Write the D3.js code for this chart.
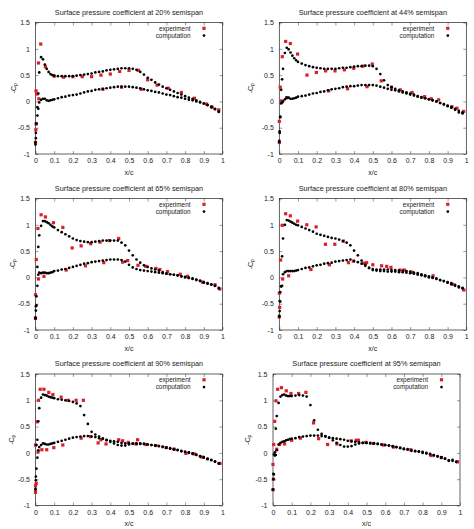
<!DOCTYPE html>
<html>
<head>
<meta charset="utf-8">
<script src="https://cdn.jsdelivr.net/npm/d3@7"></script>
<style>
  body { margin: 0; background: #fff; }
  text { font-family: "Liberation Sans", Arial, sans-serif; fill: #222; }
</style>
</head>
<body>
<script>
// span stations of the six plots
var spans = ["20%", "44%", "65%", "80%", "90%", "95%"];

var xTicks = [0, 0.1, 0.2, 0.3, 0.4, 0.5, 0.6, 0.7, 0.8, 0.9, 1];
var xTickLabels = ["0", "0.1", "0.2", "0.3", "0.4", "0.5", "0.6", "0.7", "0.8", "0.9", "1"];
var yTicks = [-1, -0.5, 0, 0.5, 1, 1.5];
var yTickLabels = ["-1", "-0.5", "0", "0.5", "1", "1.5"];

// chordwise stations of the computation (both surfaces)
var stations = [0, 0.002, 0.005, 0.01, 0.015, 0.02, 0.03, 0.04, 0.05, 0.06, 0.07, 0.08, 0.09, 0.1,
  0.12, 0.14, 0.16, 0.18, 0.2, 0.22, 0.24, 0.26, 0.28, 0.3,
  0.32, 0.34, 0.36, 0.38, 0.4, 0.42, 0.44, 0.46, 0.48, 0.5,
  0.52, 0.54, 0.56, 0.58, 0.6, 0.62, 0.64, 0.66, 0.68, 0.7,
  0.72, 0.74, 0.76, 0.78, 0.8, 0.82, 0.84, 0.86, 0.88, 0.9,
  0.92, 0.94, 0.96, 0.98];

// computation, -Cp, upper and lower surface
var upper20 = [-0.82, -0.70, -0.42, -0.11, 0.15, 0.55, 0.84, 0.80, 0.70, 0.62, 0.56, 0.52, 0.50, 0.49,
  0.48, 0.48, 0.48, 0.48, 0.48, 0.49, 0.50, 0.51, 0.52, 0.53,
  0.55, 0.56, 0.57, 0.59, 0.60, 0.61, 0.62, 0.63, 0.63, 0.63,
  0.62, 0.60, 0.56, 0.51, 0.45, 0.41, 0.36, 0.32, 0.28, 0.25,
  0.22, 0.19, 0.16, 0.13, 0.10, 0.07, 0.05, 0.02, -0.01, -0.04,
  -0.07, -0.11, -0.15, -0.20];
var lower20 = [-0.78, -0.60, -0.42, -0.27, -0.14, -0.02, 0.03, 0.05, 0.05, 0.02, 0.01, 0.02, 0.03, 0.04,
  0.06, 0.08, 0.09, 0.11, 0.12, 0.13, 0.15, 0.17, 0.19, 0.20,
  0.22, 0.23, 0.24, 0.25, 0.26, 0.27, 0.28, 0.28, 0.28, 0.28,
  0.27, 0.26, 0.25, 0.23, 0.21, 0.20, 0.18, 0.17, 0.15, 0.13,
  0.12, 0.10, 0.08, 0.07, 0.05, 0.03, 0.02, 0.00, -0.02, -0.04,
  -0.07, -0.10, -0.14, -0.19];

var upper44 = [-0.77, -0.57, -0.29, 0.22, 0.42, 0.62, 0.92, 1.02, 0.99, 0.93, 0.87, 0.82, 0.78, 0.75,
  0.72, 0.69, 0.67, 0.65, 0.64, 0.63, 0.62, 0.62, 0.62, 0.62,
  0.63, 0.64, 0.64, 0.65, 0.66, 0.67, 0.67, 0.68, 0.68, 0.67,
  0.62, 0.52, 0.40, 0.31, 0.27, 0.24, 0.21, 0.19, 0.17, 0.15,
  0.13, 0.10, 0.08, 0.06, 0.04, 0.02, 0.00, -0.03, -0.06, -0.09,
  -0.12, -0.16, -0.21, -0.23];
var lower44 = [-0.75, -0.60, -0.30, -0.04, -0.02, 0.00, 0.04, 0.07, 0.07, 0.05, 0.05, 0.06, 0.07, 0.09,
  0.10, 0.11, 0.13, 0.15, 0.16, 0.18, 0.19, 0.21, 0.23, 0.24,
  0.25, 0.27, 0.28, 0.29, 0.29, 0.30, 0.31, 0.31, 0.31, 0.31,
  0.30, 0.28, 0.26, 0.24, 0.22, 0.21, 0.19, 0.17, 0.15, 0.13,
  0.11, 0.09, 0.07, 0.06, 0.04, 0.02, 0.00, -0.03, -0.05, -0.08,
  -0.11, -0.14, -0.18, -0.21];

var upper65 = [-0.76, -0.63, -0.53, 0.20, 0.58, 0.80, 0.98, 1.07, 1.07, 1.05, 1.03, 1.00, 0.97, 0.95,
  0.90, 0.86, 0.82, 0.78, 0.74, 0.71, 0.69, 0.68, 0.67, 0.67,
  0.68, 0.69, 0.70, 0.70, 0.70, 0.70, 0.70, 0.66, 0.61, 0.51,
  0.42, 0.34, 0.28, 0.23, 0.20, 0.17, 0.15, 0.13, 0.10, 0.07,
  0.06, 0.05, 0.04, 0.02, 0.00, -0.01, -0.03, -0.05, -0.07, -0.10,
  -0.12, -0.14, -0.16, -0.21];
var lower65 = [-0.78, -0.55, -0.36, -0.16, 0.05, 0.09, 0.08, 0.09, 0.09, 0.08, 0.08, 0.09, 0.10, 0.12,
  0.13, 0.15, 0.16, 0.18, 0.20, 0.22, 0.24, 0.26, 0.27, 0.29,
  0.30, 0.31, 0.32, 0.33, 0.34, 0.34, 0.34, 0.33, 0.30, 0.24,
  0.19, 0.16, 0.14, 0.13, 0.12, 0.11, 0.10, 0.09, 0.08, 0.07,
  0.06, 0.05, 0.04, 0.02, 0.01, -0.01, -0.02, -0.04, -0.06, -0.09,
  -0.11, -0.13, -0.16, -0.20];

var upper80 = [-0.73, -0.64, -0.46, -0.17, 0.40, 0.74, 1.00, 1.09, 1.08, 1.06, 1.04, 1.02, 1.00, 0.99,
  0.96, 0.93, 0.90, 0.87, 0.83, 0.81, 0.79, 0.77, 0.75, 0.74,
  0.72, 0.69, 0.66, 0.61, 0.51, 0.42, 0.32, 0.24, 0.18, 0.14,
  0.13, 0.12, 0.12, 0.11, 0.11, 0.11, 0.10, 0.10, 0.09, 0.08,
  0.07, 0.05, 0.04, 0.02, 0.00, -0.01, -0.03, -0.05, -0.07, -0.09,
  -0.11, -0.14, -0.17, -0.20];
var lower80 = [-0.75, -0.45, -0.28, -0.17, -0.16, 0.06, 0.10, 0.12, 0.12, 0.12, 0.12, 0.12, 0.13, 0.14,
  0.16, 0.18, 0.19, 0.21, 0.23, 0.24, 0.26, 0.27, 0.28, 0.30,
  0.31, 0.32, 0.33, 0.34, 0.31, 0.29, 0.26, 0.22, 0.18, 0.16,
  0.15, 0.15, 0.15, 0.15, 0.14, 0.14, 0.13, 0.13, 0.12, 0.11,
  0.09, 0.08, 0.06, 0.04, 0.02, 0.00, -0.02, -0.05, -0.07, -0.10,
  -0.13, -0.16, -0.19, -0.21];

var upper90 = [-0.70, -0.52, -0.30, 0.25, 0.60, 0.85, 1.05, 1.11, 1.10, 1.09, 1.07, 1.06, 1.05, 1.04,
  1.02, 1.01, 1.00, 0.99, 0.97, 0.94, 0.89, 0.72, 0.55, 0.40,
  0.35, 0.31, 0.27, 0.24, 0.21, 0.18, 0.15, 0.14, 0.14, 0.16,
  0.17, 0.17, 0.17, 0.17, 0.16, 0.15, 0.14, 0.13, 0.11, 0.10,
  0.08, 0.07, 0.05, 0.03, 0.02, 0.00, -0.02, -0.04, -0.07, -0.09,
  -0.12, -0.14, -0.17, -0.20];
var lower90 = [-0.68, -0.45, 0.15, -0.09, 0.05, 0.11, 0.15, 0.18, 0.17, 0.16, 0.16, 0.17, 0.18, 0.19,
  0.21, 0.23, 0.25, 0.27, 0.29, 0.30, 0.31, 0.32, 0.32, 0.31,
  0.30, 0.28, 0.27, 0.25, 0.23, 0.22, 0.21, 0.19, 0.18, 0.18,
  0.18, 0.18, 0.18, 0.17, 0.16, 0.15, 0.14, 0.13, 0.12, 0.10,
  0.09, 0.07, 0.06, 0.04, 0.02, 0.01, -0.01, -0.03, -0.06, -0.08,
  -0.11, -0.13, -0.16, -0.20];

var upper95 = [-0.70, -0.50, -0.41, 0.01, 0.46, 0.70, 0.95, 1.07, 1.10, 1.11, 1.09, 1.08, 1.08, 1.08,
  1.09, 1.10, 1.09, 1.07, 0.91, 0.62, 0.44, 0.36, 0.32, 0.29,
  0.24, 0.19, 0.15, 0.12, 0.12, 0.13, 0.16, 0.18, 0.19, 0.19,
  0.19, 0.18, 0.17, 0.16, 0.15, 0.14, 0.12, 0.11, 0.09, 0.07,
  0.06, 0.04, 0.03, 0.02, 0.00, -0.01, -0.03, -0.05, -0.07, -0.09,
  -0.11, -0.14, -0.13, -0.17];
var lower95 = [-0.70, -0.40, -0.03, -0.05, -0.04, 0.05, 0.16, 0.19, 0.21, 0.22, 0.24, 0.25, 0.26, 0.27,
  0.28, 0.30, 0.31, 0.32, 0.33, 0.33, 0.33, 0.32, 0.31, 0.29,
  0.28, 0.27, 0.26, 0.25, 0.23, 0.22, 0.21, 0.20, 0.19, 0.19,
  0.18, 0.18, 0.17, 0.16, 0.15, 0.14, 0.13, 0.11, 0.10, 0.08,
  0.07, 0.05, 0.04, 0.03, 0.02, 0.00, -0.02, -0.04, -0.06, -0.08,
  -0.11, -0.15, -0.15, -0.17];

// experiment, x/c and -Cp
var expX20 = [0, 0.003, 0.002, 0.003, 0.008, 0.016, 0.018, 0.028, 0.053, 0.1, 0.15, 0.2, 0.25, 0.3, 0.35, 0.36,
  0.4, 0.45, 0.46, 0.5, 0.55, 0.565, 0.6, 0.65, 0.71, 0.78, 0.85, 0.915, 0.945, 0.98];
var expY20 = [-0.78, -0.43, -0.54, 0.20, 0.14, 0.73, 0.05, 1.09, 0.66, 0.48, 0.46, 0.47, 0.47, 0.47, 0.50, 0.23,
  0.52, 0.57, 0.27, 0.59, 0.59, 0.23, 0.41, 0.31, 0.25, 0.17, 0.06, -0.05, -0.11, -0.16];

var expX44 = [0, 0, 0.005, 0.01, 0.016, 0.034, 0.04, 0.059, 0.098, 0.148, 0.198, 0.248, 0.264, 0.298, 0.348,
  0.365, 0.398, 0.447, 0.469, 0.497, 0.545, 0.6, 0.647, 0.71, 0.777, 0.813, 0.852, 0.923, 0.95, 0.986];
var expY44 = [-0.38, -0.78, 0.27, 0.01, 0.85, 1.14, 0.07, 1.10, 0.90, 0.50, 0.55, 0.58, 0.20, 0.58, 0.60,
  0.24, 0.63, 0.67, 0.28, 0.71, 0.39, 0.27, 0.22, 0.17, 0.09, 0.05, 0.03, -0.10, -0.13, -0.19];

var expX65 = [0, 0, 0.004, 0.013, 0.016, 0.03, 0.045, 0.053, 0.096, 0.146, 0.164, 0.196, 0.244, 0.267, 0.295,
  0.345, 0.365, 0.395, 0.445, 0.466, 0.493, 0.548, 0.59, 0.644, 0.665, 0.706, 0.774, 0.813, 0.893, 0.96, 0.986];
var expY65 = [-0.33, -0.78, 0.34, 0.93, -0.03, 1.19, 0.02, 1.15, 1.04, 0.95, 0.14, 0.56, 0.60, 0.22, 0.64,
  0.67, 0.28, 0.70, 0.74, 0.29, 0.32, 0.23, 0.21, 0.17, 0.15, 0.11, 0.06, 0.02, -0.09, -0.14, -0.22];

var expX80 = [0, 0, 0.002, 0.007, 0.016, 0.018, 0.034, 0.05, 0.059, 0.098, 0.147, 0.169, 0.197, 0.247, 0.268,
  0.297, 0.343, 0.37, 0.396, 0.45, 0.467, 0.5, 0.547, 0.574, 0.597, 0.645, 0.668, 0.709, 0.822, 0.925, 0.987];
var expY80 = [-0.75, -0.30, -0.57, 0.33, 0.99, -0.03, 1.21, 0.03, 1.17, 1.07, 1.00, 0.15, 0.96, 0.63, 0.24,
  0.63, 0.69, 0.28, 0.31, 0.27, 0.28, 0.24, 0.22, 0.21, 0.19, 0.14, 0.14, 0.10, 0.03, -0.13, -0.24];

var expX90 = [0, 0, 0, 0.004, 0.007, 0.014, 0.016, 0.025, 0.034, 0.045, 0.06, 0.071, 0.093, 0.098, 0.137,
  0.146, 0.173, 0.217, 0.244, 0.256, 0.294, 0.335, 0.35, 0.377, 0.445, 0.466, 0.496, 0.537, 0.546, 0.59,
  0.644, 0.698, 0.742, 0.804, 0.85, 0.89, 0.987];
var expY90 = [-0.75, -0.62, 0.15, -0.58, 0.59, 0.02, 1.00, 1.21, 0.06, 1.21, 0.06, 1.15, 1.11, 0.10, 1.06,
  0.15, 1.00, 1.00, 0.28, 1.00, 0.31, 0.19, 0.25, 0.17, 0.25, 0.23, 0.20, 0.17, 0.25, 0.16,
  0.14, 0.10, 0.07, -0.01, -0.02, -0.08, -0.20];

var expX95 = [0, 0, 0.002, 0.004, 0.009, 0.016, 0.02, 0.025, 0.035, 0.045, 0.062, 0.071, 0.096, 0.1, 0.137,
  0.146, 0.176, 0.217, 0.244, 0.292, 0.342, 0.418, 0.445, 0.457, 0.496, 0.537, 0.59, 0.644, 0.737, 0.845,
  0.9, 0.987];
var expY95 = [-0.22, -0.70, -0.50, 0.16, 0.60, 0.99, 0.07, 1.21, 0.16, 1.24, 0.17, 1.18, 1.13, 0.24, 1.13,
  0.28, 1.15, 0.57, 0.27, 0.16, 0.17, 0.23, 0.24, 0.24, 0.20, 0.18, 0.15, 0.11, 0.06, -0.05,
  -0.09, -0.17];

var upperSets = [upper20, upper44, upper65, upper80, upper90, upper95];
var lowerSets = [lower20, lower44, lower65, lower80, lower90, lower95];
var expXSets = [expX20, expX44, expX65, expX80, expX90, expX95];
var expYSets = [expY20, expY44, expY65, expY80, expY90, expY95];

var width = 474,
    height = 529,
    cellW = 237,
    rowTop = [0, 176, 351.5],
    frameLeft = [35.5, 42.3, 35.5, 42.3, 35.5, 36],
    yLabelX = [13, 13, 12, 13, 11, 10],
    frameTop = 22.5,
    chartWidth = 187,
    chartHeight = 131.5;

var red = "#dc1e2c";

var svg = d3.select("body")
    .append("svg")
    .attr("width", width)
    .attr("height", height);

spans.forEach(function(span, i) {
    var col = i % 2,
        row = Math.floor(i / 2),
        ox = col * cellW,
        oy = rowTop[row];

    var panel = svg.append("g")
        .attr("transform", "translate(" + ox + "," + oy + ")");

    var chart = panel.append("g")
        .attr("transform", "translate(" + frameLeft[i] + "," + frameTop + ")");

    var xScale = d3.scaleLinear().domain([0, 1]).range([0, chartWidth]);
    var yScale = d3.scaleLinear().domain([-1, 1.5]).range([chartHeight, 0]);

    // axes, ticks pointing inwards
    chart.append("g")
        .attr("class", "x axis")
        .attr("transform", "translate(0," + chartHeight + ")")
        .call(d3.axisBottom(xScale).tickValues(xTicks).tickSize(-3).tickPadding(4.5)
            .tickFormat(function(d, k) { return xTickLabels[k]; }));
    chart.append("g")
        .call(d3.axisTop(xScale).tickValues(xTicks).tickSize(-3).tickFormat(""));
    chart.append("g")
        .attr("class", "y axis")
        .call(d3.axisLeft(yScale).tickValues(yTicks).tickSize(-3).tickPadding(5.5)
            .tickFormat(function(d, k) { return yTickLabels[k]; }));
    chart.append("g")
        .attr("transform", "translate(" + chartWidth + ",0)")
        .call(d3.axisRight(yScale).tickValues(yTicks).tickSize(-3).tickFormat(""));

    chart.selectAll(".domain").remove();
    chart.selectAll(".tick line").attr("stroke", "#555").attr("stroke-width", 0.6);
    chart.selectAll(".tick text")
        .style("font-family", "'Liberation Sans', Arial, sans-serif")
        .style("font-size", "7px")
        .attr("fill", "#222");

    chart.append("rect")
        .attr("width", chartWidth)
        .attr("height", chartHeight)
        .attr("fill", "none")
        .attr("stroke", "#222")
        .attr("stroke-width", 0.7);

    // experiment
    var expData = expXSets[i].map(function(x, k) { return [x, expYSets[i][k]]; });
    chart.selectAll("rect.exp")
        .data(expData)
        .enter()
        .append("rect")
            .attr("class", "exp")
            .attr("x", function(d) { return xScale(d[0]) - 1.6; })
            .attr("y", function(d) { return yScale(d[1]) - 1.6; })
            .attr("width", 3.2)
            .attr("height", 3.2)
            .attr("fill", red);

    // computation
    var compData = [];
    stations.forEach(function(x, k) {
        compData.push([x, upperSets[i][k]]);
        compData.push([x, lowerSets[i][k]]);
    });
    chart.selectAll("circle.comp")
        .data(compData)
        .enter()
        .append("circle")
            .attr("class", "comp")
            .attr("cx", function(d) { return xScale(d[0]); })
            .attr("cy", function(d) { return yScale(d[1]); })
            .attr("r", 1.35)
            .attr("fill", "#000");

    // legend
    var legend = chart.append("g");
    legend.append("text")
        .attr("x", chartWidth - 32)
        .attr("y", 8.0)
        .attr("text-anchor", "end")
        .style("font-size", "6.4px")
        .text("experiment");
    legend.append("rect")
        .attr("x", chartWidth - 20.1)
        .attr("y", 4.2)
        .attr("width", 3.2)
        .attr("height", 3.2)
        .attr("fill", red);
    legend.append("text")
        .attr("x", chartWidth - 32)
        .attr("y", 15.4)
        .attr("text-anchor", "end")
        .style("font-size", "6.4px")
        .text("computation");
    legend.append("circle")
        .attr("cx", chartWidth - 18.5)
        .attr("cy", 13.1)
        .attr("r", 1.35)
        .attr("fill", "#000");

    // title and axis labels
    panel.append("text")
        .attr("x", frameLeft[i] + chartWidth / 2)
        .attr("y", 14.6)
        .attr("text-anchor", "middle")
        .style("font-size", "7.3px")
        .text("Surface pressure coefficient at " + span + " semispan");

    panel.append("text")
        .attr("x", frameLeft[i] + chartWidth / 2)
        .attr("y", frameTop + chartHeight + 20.5)
        .attr("text-anchor", "middle")
        .style("font-size", "7px")
        .text("x/c");

    var yl = panel.append("text")
        .attr("transform", "translate(" + (yLabelX[i] + 2.5) + "," + (frameTop + chartHeight / 2) + ") rotate(-90)")
        .attr("text-anchor", "middle")
        .style("font-size", "7px");
    yl.append("tspan").text("-C");
    yl.append("tspan").attr("dy", 1.8).style("font-size", "5px").text("p");
});
</script>
</body>
</html>
